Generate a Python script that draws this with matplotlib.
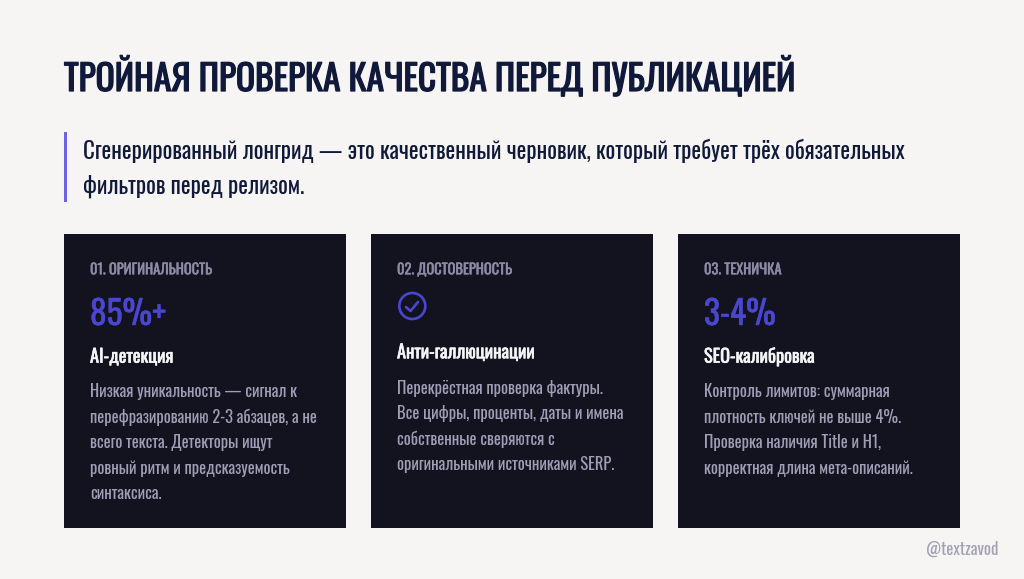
import matplotlib
matplotlib.use("Agg")
import matplotlib.pyplot as plt
import matplotlib.patheffects as pe
from matplotlib import font_manager as fm
from matplotlib.patches import Rectangle, Circle

avail = {f.name for f in fm.fontManager.ttflist}
FONT = [n for n in ["Oswald", "Roboto Condensed", "Roboto", "DejaVu Sans"] if n in avail]

title = "ТРОЙНАЯ ПРОВЕРКА КАЧЕСТВА ПЕРЕД ПУБЛИКАЦИЕЙ"
intro = ["Сгенерированный лонгрид — это качественный черновик, который требует трёх обязательных",
         "фильтров перед релизом."]
kickers = ["01. ОРИГИНАЛЬНОСТЬ", "02. ДОСТОВЕРНОСТЬ", "03. ТЕХНИЧКА"]
metrics = ["85%+", None, "3-4%"]
heads = ["AI-детекция", "Анти-галлюцинации", "SEO-калибровка"]
bodies = [
    ["Низкая уникальность — сигнал к", "перефразированию 2-3 абзацев, а не", "всего текста. Детекторы ищут",
     "ровный ритм и предсказуемость", "синтаксиса."],
    ["Перекрёстная проверка фактуры.", "Все цифры, проценты, даты и имена", "собственные сверяются с",
     "оригинальными источниками SERP."],
    ["Контроль лимитов: суммарная", "плотность ключей не выше 4%.", "Проверка наличия Title и H1,",
     "корректная длина мета-описаний."],
]
handle = "@textzavod"

BG, CARD, INK, ACC, MUTED, BODY = "#f6f5f3", "#12131f", "#11193a", "#4a46d0", "#8d8aa6", "#a09eb6"

fig = plt.figure(figsize=(10.24, 5.79), dpi=100, facecolor=BG)
ax = fig.add_axes([0, 0, 1, 1])
ax.set_xlim(0, 1024); ax.set_ylim(579, 0); ax.axis("off")

def t(x, y, s, size, color, bold=0.0):
    txt = ax.text(x, y, s, fontsize=size, color=color, family=FONT, va="baseline", ha="left")
    if bold:
        txt.set_path_effects([pe.withStroke(linewidth=bold, foreground=color)])

t(64, 91, title, 25.5, INK, 0.9)
ax.add_patch(Rectangle((64, 132), 2.5, 70, fc="#6a63e8", ec="none"))
t(83, 159, intro[0], 16.5, INK)
t(83, 194, intro[1], 16.5, INK)

xs = [64, 371, 678]
for i, x in enumerate(xs):
    ax.add_patch(Rectangle((x, 233.5), 282, 294, fc=CARD, ec="none"))
    tx = x + 26
    t(tx, 274.3, kickers[i], 10.4, MUTED, 0.3)
    if metrics[i]:
        t(tx, 325, metrics[i], 24, ACC, 0.3)
        hy, by = 362.7, 397.5
    else:
        ax.add_patch(Circle((tx + 15.3, 306), 13, fc="none", ec=ACC, lw=1.9))
        ax.plot([tx + 9, tx + 13.5, tx + 21], [307, 311, 302], color=ACC, lw=1.9,
                solid_capstyle="round", solid_joinstyle="round")
        hy, by = 358.3, 394
    t(tx, hy, heads[i], 13.2, "#f5f5f7", 0.4)
    for j, line in enumerate(bodies[i]):
        t(tx, by + j * 25.4, line, 11.9, BODY)

t(926, 554.3, handle, 12, "#a3a2b3")
fig.savefig("out.png", dpi=100, facecolor=BG)
